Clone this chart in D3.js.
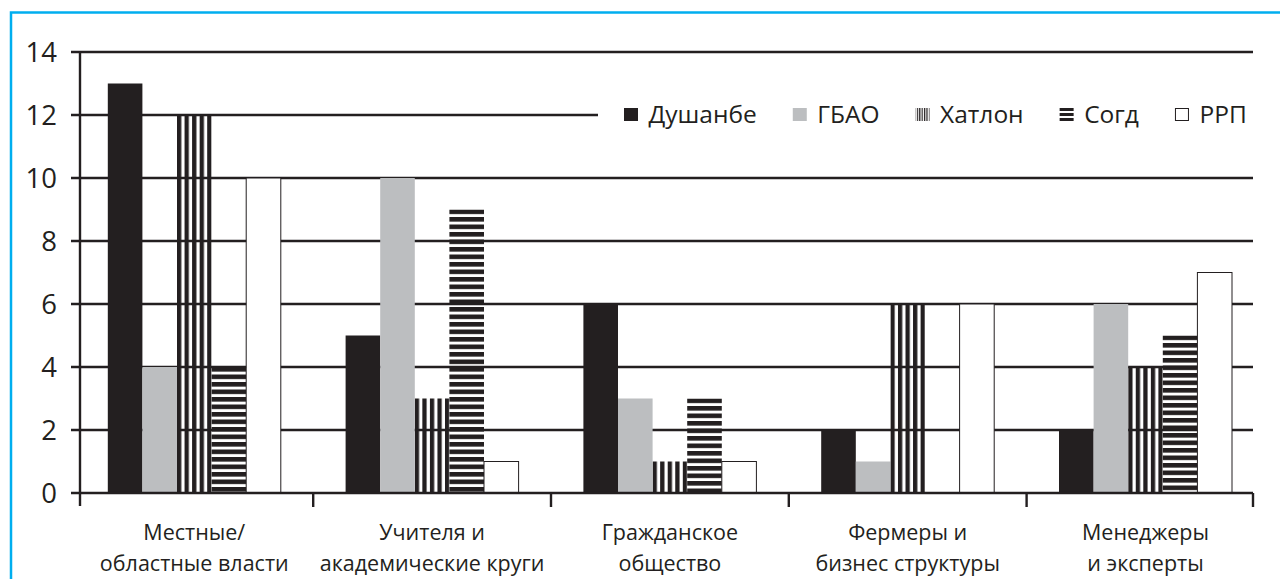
<!DOCTYPE html>
<html>
<head>
<meta charset="utf-8">
<script src="https://cdn.jsdelivr.net/npm/d3@7"></script>
<style>
  html, body { margin: 0; padding: 0; background: #fff; }
  svg { display: block; }
  text { font-family: "Open Sans", sans-serif; fill: #231f20; }
</style>
</head>
<body>
<svg id="chart" width="1280" height="579"></svg>
<script>
// ---- data ----
const categories = [
  ["Местные/", "областные власти"],
  ["Учителя и", "академические круги"],
  ["Гражданское", "общество"],
  ["Фермеры и", "бизнес структуры"],
  ["Менеджеры", "и эксперты"]
];
const seriesNames = ["Душанбе", "ГБАО", "Хатлон", "Согд", "РРП"];
const dushanbe = [13, 5, 6, 2, 2];
const gbao     = [4, 10, 3, 1, 6];
const khatlon  = [12, 3, 1, 6, 4];
const sogd     = [4, 9, 3, 0, 5];
const rrp      = [10, 1, 1, 6, 7];
const yTicks   = [0, 2, 4, 6, 8, 10, 12, 14];

const seriesValues = [dushanbe, gbao, khatlon, sogd, rrp];
const catKeys = categories.map(c => c.join(" "));

// ---- layout ----
const ink = "#231f20";
const plotLeft = 80, plotRight = 1253;
const svg = d3.select("#chart");

const x0 = d3.scaleBand().domain(catKeys).range([75.4, 1264.4]).padding(0);
const step = x0.bandwidth();
const barW = 34.6;
const sideGap = (step - barW * seriesNames.length) / 2;
const x1 = d3.scaleBand().domain(seriesNames).range([sideGap, step - sideGap]).padding(0);
const y = d3.scaleLinear().domain([0, 14]).range([493, 52]);

// frame (cyan left & top)
svg.append("path")
  .attr("d", "M11,590 V12.5 H1290")
  .attr("fill", "none").attr("stroke", "#00aeef").attr("stroke-width", 2.5);

// gridlines
svg.append("g").selectAll("line").data(yTicks.filter(t => t > 0)).join("line")
  .attr("x1", 71).attr("x2", plotRight)
  .attr("y1", d => y(d)).attr("y2", d => y(d))
  .attr("stroke", ink).attr("stroke-width", 2.4);

// bars data
const bars = [];
catKeys.forEach((c, ci) => {
  seriesNames.forEach((s, si) => {
    bars.push({ cat: c, ci, series: s, si, value: seriesValues[si][ci] });
  });
});

const defs = svg.append("defs");
// vertical stripes (Хатлон), one pattern per bar so stripes align to bar edge
const vBars = bars.filter(d => d.si === 2);
const vp = defs.selectAll("pattern.v").data(vBars).join("pattern")
  .attr("class", "v")
  .attr("id", d => "vp" + d.ci)
  .attr("patternUnits", "userSpaceOnUse")
  .attr("x", d => x0(d.cat) + x1(d.series)).attr("y", 0)
  .attr("width", 7.55).attr("height", 600);
vp.append("rect").attr("x", 0).attr("y", 0).attr("width", 4.3).attr("height", 600).attr("fill", ink);

// horizontal stripes (Согд)
const hBars = bars.filter(d => d.si === 3);
const hp = defs.selectAll("pattern.h").data(hBars).join("pattern")
  .attr("class", "h")
  .attr("id", d => "hp" + d.ci)
  .attr("patternUnits", "userSpaceOnUse")
  .attr("x", 0).attr("y", d => y(d.value))
  .attr("width", 1300).attr("height", 7.5);
hp.append("rect").attr("x", 0).attr("y", 0).attr("width", 1300).attr("height", 4.6).attr("fill", ink);

function fillFor(d) {
  if (d.si === 0) return ink;
  if (d.si === 1) return "#bcbec0";
  if (d.si === 2) return "url(#vp" + d.ci + ")";
  if (d.si === 3) return "url(#hp" + d.ci + ")";
  return "#ffffff";
}

svg.append("g").selectAll("rect").data(bars.filter(d => d.value > 0)).join("rect")
  .attr("x", d => x0(d.cat) + x1(d.series))
  .attr("y", d => y(d.value))
  .attr("width", x1.bandwidth())
  .attr("height", d => y(0) - y(d.value))
  .attr("fill", fillFor)
  .attr("stroke", d => d.si === 4 ? ink : "none")
  .attr("stroke-width", 1);

// x axis baseline
svg.append("line")
  .attr("x1", 71).attr("x2", plotRight)
  .attr("y1", y(0)).attr("y2", y(0))
  .attr("stroke", ink).attr("stroke-width", 2.4);

// y axis line
svg.append("line")
  .attr("x1", plotLeft).attr("x2", plotLeft)
  .attr("y1", y(14) - 1).attr("y2", 506)
  .attr("stroke", ink).attr("stroke-width", 2.4);

// category ticks (band boundaries) + right end
const tickXs = catKeys.slice(1).map(c => x0(c)).concat([plotRight]);
svg.append("g").selectAll("line").data(tickXs).join("line")
  .attr("x1", d => d).attr("x2", d => d)
  .attr("y1", y(0)).attr("y2", 507)
  .attr("stroke", ink).attr("stroke-width", 2.4);

// y tick labels
svg.append("g").selectAll("text").data(yTicks).join("text")
  .attr("x", 57).attr("y", d => y(d))
  .attr("dy", "0.35em")
  .attr("text-anchor", "end")
  .attr("font-size", 27.5)
  .text(d => d);

// category labels
const cl = svg.append("g").selectAll("text").data(categories).join("text")
  .attr("text-anchor", "middle")
  .attr("font-size", 21.5)
  .attr("x", (d, i) => x0(catKeys[i]) + step / 2);
cl.selectAll("tspan").data(d => d).join("tspan")
  .attr("x", function () { return this.parentNode.getAttribute("x"); })
  .attr("y", (d, i) => 540 + i * 31)
  .text(d => d);

// legend
const lg = svg.append("g");
lg.append("rect").attr("x", 598).attr("y", 98).attr("width", 660).attr("height", 34).attr("fill", "#fff");

// legend swatch patterns
const lv = defs.append("pattern").attr("id", "lgv").attr("patternUnits", "userSpaceOnUse")
  .attr("x", 0).attr("y", 0).attr("width", 2.4).attr("height", 20);
lv.append("rect").attr("width", 1.2).attr("height", 20).attr("fill", ink);
const lh = defs.append("pattern").attr("id", "lgh").attr("patternUnits", "userSpaceOnUse")
  .attr("x", 0).attr("y", 108).attr("width", 20).attr("height", 5);
lh.append("rect").attr("width", 20).attr("height", 3).attr("fill", ink);

const legendFills = [ink, "#bcbec0", "url(#lgv)", "url(#lgh)", "#fff"];
let lx = 624;
seriesNames.forEach((s, i) => {
  const item = lg.append("g");
  item.append("rect")
    .attr("x", lx + (i === 4 ? 0.5 : 0)).attr("y", 108 + (i === 4 ? 0.5 : 0))
    .attr("width", i === 4 ? 13 : 14).attr("height", i === 4 ? 12 : 13)
    .attr("fill", legendFills[i])
    .attr("stroke", i === 4 ? ink : "none").attr("stroke-width", 1);
  const t = item.append("text")
    .attr("x", lx + 24.5).attr("y", 123)
    .attr("font-size", 24.5)
    .text(s);
  lx = lx + 24.5 + t.node().getComputedTextLength() + 36;
});
</script>
</body>
</html>
